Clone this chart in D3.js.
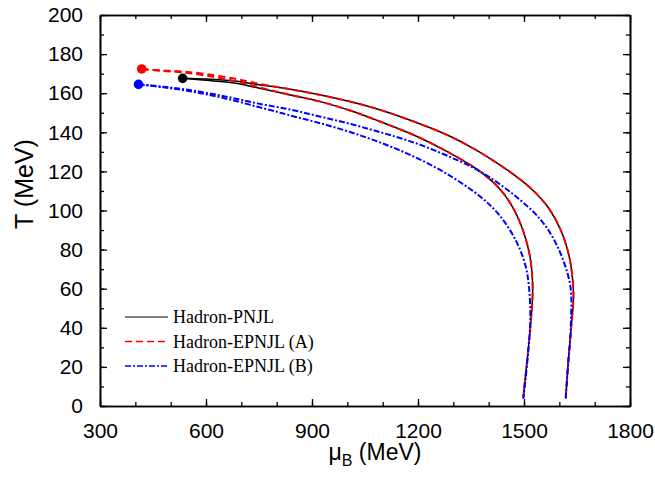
<!DOCTYPE html>
<html>
<head>
<meta charset="utf-8">
<script src="https://cdn.jsdelivr.net/npm/d3@7/dist/d3.min.js"></script>
<style>
  body { margin: 0; background: #fff; }
  svg { display: block; }
  .tick text { font-family: "Liberation Sans", Arial, sans-serif; font-size: 21px; fill: #000; }
</style>
</head>
<body>
<svg id="chart" width="655" height="481"></svg>
<script>
// phase boundaries, [muB (MeV), T (MeV)]
const pnjlOuter = [[534,167.6],[600,167.2],[680,166.2],[745,164.5],[839,162],[924,159.1],[1010,155.6],[1094,151.4],[1188,145.5],[1283,138.6],[1360,131.4],[1425,124.1],[1475,117.8],[1519,111.4],[1567,101.9],[1604,90],[1628,76.4],[1638,64],[1640,55],[1636,45],[1633,38.9],[1625,21.8],[1618,3.9]];
const pnjlInner = [[534,167.6],[600,166.6],[680,165.2],[745,162.8],[839,159.1],[924,155.7],[1010,151],[1094,145.4],[1188,138.6],[1283,130.1],[1377,119.8],[1434,110.5],[1472,100.3],[1500,88.3],[1517,76.4],[1524,64],[1524,55],[1519,42.3],[1510,25.2],[1500,8.2],[1498,3.9]];
const epnjlAOuter = [[418,172.4],[480,171.6],[534,171.1],[600,169.8],[680,167.5],[745,165],[839,162]].concat(pnjlOuter.slice(5));
const epnjlAInner = [[418,172.4],[480,171.3],[534,170.6],[600,169],[680,166.3],[745,163.3],[839,159.1]].concat(pnjlInner.slice(5));
const epnjlBOuter = [[409,164.5],[480,163.3],[555,161.6],[650,158.5],[745,154.8],[839,151.6],[924,148],[1010,144.2],[1094,140],[1188,134.8],[1283,128],[1377,119.8],[1472,107.9],[1548,95.1],[1595,81.5],[1628,64.4],[1634,55],[1633,45],[1631,35],[1625,21.8],[1618,3.9]];
const epnjlBInner = [[409,164.5],[480,163],[555,161],[650,157.5],[752,152.8],[839,148.6],[924,144.6],[1010,140],[1100,134.3],[1188,127.6],[1283,118.6],[1377,107],[1434,96.8],[1481,83.2],[1505,71.2],[1514,61],[1518,45],[1512,28],[1502,10],[1498,3.9]];

// critical end points
const endPoints = [[534,167.6],[418,172.4],[409,164.5]];

const seriesNames = ["Hadron-PNJL", "Hadron-EPNJL (A)", "Hadron-EPNJL (B)"];
const seriesColors = ["#000000", "#ff0000", "#0000ff"];
const seriesDash = [null, "7,4", "6,2,2,2"];
const seriesWidth = [1.5, 2, 2];
const seriesLines = [[pnjlOuter, pnjlInner], [epnjlAOuter, epnjlAInner], [epnjlBOuter, epnjlBInner]];

const xTicks = [300, 600, 900, 1200, 1500, 1800];
const yTicks = [0, 20, 40, 60, 80, 100, 120, 140, 160, 180, 200];

const svg = d3.select("#chart");
const mLeft = 100, mRight = 630, mTop = 15, mBottom = 406;

const x = d3.scaleLinear().domain([300, 1800]).range([mLeft, mRight]);
const y = d3.scaleLinear().domain([0, 200]).range([mBottom, mTop]);

const line = d3.line()
    .x(d => x(d[0]))
    .y(d => y(d[1]))
    .curve(d3.curveCatmullRom.alpha(0.5));

// curves
seriesLines.forEach((pair, i) => {
  pair.forEach(pts => {
    svg.append("path")
      .attr("d", line(pts))
      .attr("fill", "none")
      .attr("stroke", seriesColors[i])
      .attr("stroke-width", seriesWidth[i])
      .attr("stroke-dasharray", seriesDash[i]);
  });
});

svg.selectAll(".cep")
  .data(endPoints)
  .enter().append("circle")
  .attr("class", "cep")
  .attr("cx", d => x(d[0]))
  .attr("cy", d => y(d[1]))
  .attr("r", 4.8)
  .attr("fill", (d, i) => seriesColors[i]);

// axes, ticks pointing inward
const xMinor = d3.range(300, 1801, 100);
const yMinor = d3.range(0, 201, 10);

function drawAxis(gen, tr, ticks, size, labels) {
  const g = svg.append("g").attr("transform", tr)
    .call(gen.tickValues(ticks).tickSize(size).tickSizeOuter(0).tickPadding(labels ? 10 + Math.abs(size) : 0)
      .tickFormat(labels ? d3.format("d") : ""));
  g.select(".domain").attr("stroke", "#000").attr("stroke-width", 1.6);
  g.selectAll(".tick line").attr("stroke", "#000").attr("stroke-width", 1.3);
  return g;
}

drawAxis(d3.axisBottom(x), `translate(0,${mBottom})`, xMinor, -4, false);
drawAxis(d3.axisBottom(x), `translate(0,${mBottom})`, xTicks, -7, true);
drawAxis(d3.axisTop(x), `translate(0,${mTop})`, xMinor, -4, false);
drawAxis(d3.axisTop(x), `translate(0,${mTop})`, xTicks, -7, false);
drawAxis(d3.axisLeft(y), `translate(${mLeft},0)`, yMinor, -4, false);
drawAxis(d3.axisLeft(y), `translate(${mLeft},0)`, yTicks, -7, true);
drawAxis(d3.axisRight(y), `translate(${mRight},0)`, yMinor, -4, false);
drawAxis(d3.axisRight(y), `translate(${mRight},0)`, yTicks, -7, false);

// axis titles
const xt = svg.append("text")
  .attr("x", 375).attr("y", 460)
  .attr("text-anchor", "middle")
  .style("font-family", "Liberation Sans, Arial, sans-serif")
  .style("font-size", "23px");
xt.append("tspan").text("\u03bc");
xt.append("tspan").attr("dy", 6).style("font-size", "16px").text("B");
xt.append("tspan").attr("dy", -6).text(" (MeV)");

svg.append("text")
  .attr("transform", "translate(33,184) rotate(-90)")
  .attr("text-anchor", "middle")
  .style("font-family", "Liberation Sans, Arial, sans-serif")
  .style("font-size", "25px")
  .text("T (MeV)");

// legend
const legend = svg.append("g");
seriesNames.forEach((name, i) => {
  const ly = 317 + i * 24.5;
  legend.append("line")
    .attr("x1", 125).attr("x2", 168)
    .attr("y1", ly).attr("y2", ly)
    .attr("stroke", seriesColors[i])
    .attr("stroke-width", seriesWidth[i] - 0.3)
    .attr("stroke-dasharray", seriesDash[i]);
  legend.append("text")
    .attr("x", 173).attr("y", ly + 6)
    .style("font-family", "Liberation Serif, Times New Roman, serif")
    .style("font-size", "18px")
    .text(name);
});
</script>
</body>
</html>
